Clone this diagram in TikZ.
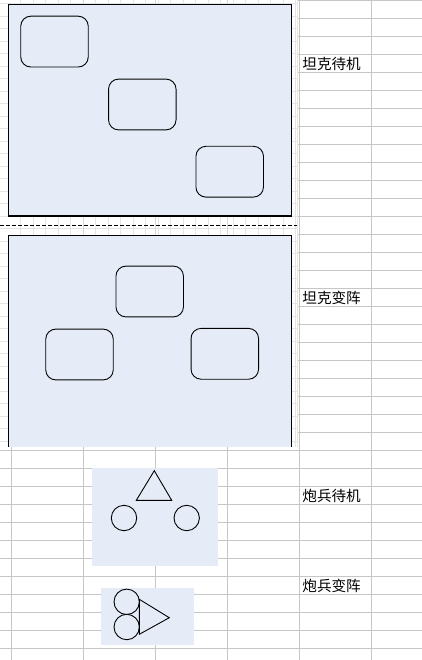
\documentclass[tikz,border=0pt]{standalone}
\usepackage{fontspec}
\newfontfamily\cjk{Noto Sans CJK SC}
\definecolor{cellline}{RGB}{198,198,198}
\definecolor{fineline}{RGB}{229,229,229}
\definecolor{paleblue}{RGB}{230,236,247}
\tikzset{
  tank/.style={draw, line width=0.9pt, rounded corners=10pt, minimum width=67.5pt, minimum height=50.8pt, inner sep=0pt},
  gun/.style={draw, circle, line width=0.9pt, minimum size=25.4pt, inner sep=0pt},
  caption/.style={anchor=west, inner sep=0pt, font=\cjk\fontsize{14.6}{16}\selectfont}
}
\begin{document}
\begin{tikzpicture}[x=1pt,y=-1pt]
\useasboundingbox (0,0) rectangle (422,660);
% sheet grid
\begin{scope}
\fill[white] (0,0) rectangle (422,660);
\foreach \k in {0,...,36} \draw[cellline] (0,18*\k+0.5) -- (422,18*\k+0.5);
\foreach \x in {11,83,155,227,299,371} \draw[cellline] (\x+0.3,0) -- (\x+0.3,660);
\end{scope}
% canvas with fine grid
\begin{scope}
\fill[white] (0,0) rectangle (296.7,447);
\foreach \k in {1,...,23} \draw[fineline,line width=0.8pt] (8+12.5*\k,0) -- (8+12.5*\k,447);
\foreach \k in {0,...,35} \draw[fineline,line width=0.8pt] (0,3.5+12.5*\k) -- (296.7,3.5+12.5*\k);
\foreach \x in {83,155,227} \draw[cellline!70,line width=0.8pt] (\x+0.3,0) -- (\x+0.3,447);
\draw[fineline] (296.7,0) -- (296.7,447);
\end{scope}
% tanks, idle
\begin{scope}
\draw[fill=paleblue,line width=1.3pt] (8.3,4.3) rectangle (291.7,216);
\node[tank] (t1) at (54.5,41.6) {};
\node[tank] (t2) at (142.3,104.5) {};
\node[tank] (t3) at (229.7,171.7) {};
\node[caption] (tankidle) at (302.2,63.8) {坦克待机};
\end{scope}
\draw[line width=0.9pt,dash pattern=on 4pt off 2pt] (0,225.3) -- (296.7,225.3);
% tanks, formation
\begin{scope}
\fill[paleblue] (8.3,235.3) rectangle (291.7,446.7);
\draw[line width=1.3pt] (8.3,446.7) -- (8.3,235.3) -- (291.7,235.3) -- (291.7,446.7);
\node[tank] (ta) at (149.7,291.5) {};
\node[tank] (tb) at (79.5,354.5) {};
\node[tank] (tc) at (224.8,353.8) {};
\node[caption] (tankform) at (302.2,297.8) {坦克变阵};
\end{scope}
% guns, idle
\begin{scope}
\fill[paleblue] (92,468) rectangle (218,565.7);
\draw[line width=0.9pt] (154.3,470.7) -- (136.3,500.3) -- (171.7,500.3) -- cycle;
\node[gun] (g1) at (124,518) {};
\node[gun] (g2) at (186.7,518) {};
\node[caption] (gunidle) at (302.2,496) {炮兵待机};
\end{scope}
% guns, formation
\begin{scope}
\fill[paleblue] (101,587.7) rectangle (194,644.7);
\node[gun] (g3) at (126.7,601.8) {};
\node[gun] (g4) at (126.7,627) {};
\draw[line width=0.9pt] (139.3,599.3) -- (169.3,617.7) -- (139.3,634.3) -- cycle;
\node[caption] (gunform) at (302.2,586) {炮兵变阵};
\end{scope}
\end{tikzpicture}
\end{document}
